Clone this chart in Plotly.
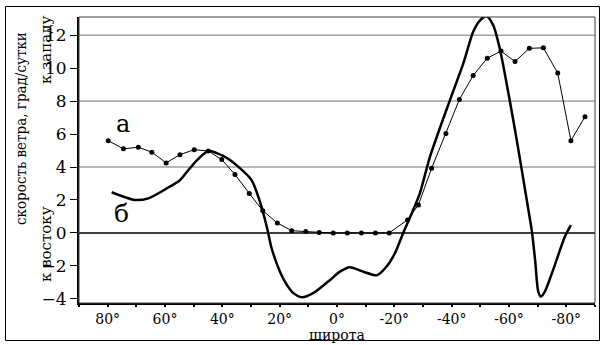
import plotly.graph_objects as go

# ---- data ----
lat_a = [79.8, 74.5, 69.3, 64.6, 59.6, 54.8, 49.8, 44.9, 40.2, 35.6, 30.6, 25.9, 20.8,
         15.8, 10.9, 6.2, 1.3, -3.6, -8.5, -13.4, -18.2, -24.6, -28.4, -33.0, -38.0,
         -42.7, -47.5, -52.4, -57.2, -62.1, -67.1, -72.0, -77.0, -81.6, -86.5]
val_a = [5.6, 5.1, 5.2, 4.9, 4.25, 4.75, 5.05, 4.97, 4.45, 3.55, 2.4, 1.35, 0.6,
         0.14, 0.08, 0.02, 0.0, 0.0, 0.0, 0.0, 0.0, 0.79, 1.7, 3.92, 6.04,
         8.1, 9.55, 10.6, 11.03, 10.4, 11.2, 11.23, 9.7, 5.6, 7.05]

lat_b = [78.6, 70.5, 65.8, 59.4, 54.8, 51.9, 48.9, 44.9, 39.7, 35.0, 29.8, 26.9, 24.5,
         22.8, 19.9, 17.5, 15.2, 12.3, 8.3, 2.4, -1.0, -4.5, -9.2, -13.9, -17.3, -20.2,
         -23.1, -26.1, -28.9, -32.4, -39.4, -44.1, -47.5, -49.9, -52.2, -54.5, -56.9,
         -59.8, -62.1, -63.9, -66.2, -68.0, -69.1, -70.2, -71.1, -72.5, -75.4, -79.5, -81.6]
val_b = [2.47, 2.0, 2.1, 2.7, 3.2, 3.8, 4.4, 4.97, 4.67, 4.1, 3.2, 1.9, 0.38,
         -0.93, -2.35, -3.15, -3.65, -3.9, -3.65, -2.85, -2.35, -2.08, -2.35, -2.57, -2.04, -1.23,
         0.0, 1.2, 2.4, 4.6, 8.06, 10.3, 12.2, 12.9, 13.15, 12.6, 11.1,
         8.47, 6.24, 4.4, 2.0, 0.08, -1.64, -3.56, -3.86, -3.56, -2.24, -0.22, 0.48]

x_tickvals = [80, 60, 40, 20, 0, -20, -40, -60, -80]
x_ticktext = ["80°", "60°", "40°", "20°", "0°", "-20°", "-40°", "-60°", "-80°"]
y_tickvals = [-4, -2, 0, 2, 4, 6, 8, 10, 12]
grid_vals = [4, 8, 12]

FONT = "DejaVu Serif"
FONT_C = "DejaVu Serif Condensed"

fig = go.Figure()
fig.add_trace(go.Scatter(x=lat_b, y=val_b, mode="lines",
                         line=dict(color="black", width=2.5, shape="spline", smoothing=0.7),
                         showlegend=False, hoverinfo="skip"))
fig.add_trace(go.Scatter(x=lat_a, y=val_a, mode="lines+markers",
                         line=dict(color="black", width=1),
                         marker=dict(color="black", size=5),
                         showlegend=False, hoverinfo="skip"))

W, H = 601, 345
ML, MR, MT, MB = 79, 6, 17, 42
pw, ph = W - ML - MR, H - MT - MB


def px(x):
    return (x - ML) / pw


def py(y):
    return (H - MB - y) / ph


shapes = []
for g in grid_vals:
    shapes.append(dict(type="line", xref="paper", yref="y", x0=0, x1=1, y0=g, y1=g,
                       line=dict(color="#707070", width=1), layer="below"))
shapes.append(dict(type="line", xref="paper", yref="y", x0=0, x1=1, y0=0, y1=0,
                   line=dict(color="black", width=1.5), layer="below"))
shapes.append(dict(type="rect", xref="paper", yref="paper", x0=0, x1=1, y0=0, y1=1,
                   line=dict(color="#404040", width=1)))
shapes.append(dict(type="rect", xref="paper", yref="paper",
                   x0=px(5.5), x1=px(599.5), y0=py(340.5), y1=py(6.5),
                   line=dict(color="black", width=1)))

annotations = [
    dict(text="а", x=px(123), y=py(124), xref="paper", yref="paper", showarrow=False,
         font=dict(family=FONT, size=24, color="black"), xanchor="center", yanchor="middle"),
    dict(text="б", x=px(121), y=py(213), xref="paper", yref="paper", showarrow=False,
         font=dict(family=FONT, size=25, color="black"), xanchor="center", yanchor="middle"),
    dict(text="скорость ветра, град/сутки", x=px(21), y=py(129), xref="paper", yref="paper",
         showarrow=False, textangle=-90,
         font=dict(family=FONT_C, size=15, color="black"), xanchor="center", yanchor="middle"),
    dict(text="к западу", x=px(46), y=py(50), xref="paper", yref="paper",
         showarrow=False, textangle=-90,
         font=dict(family=FONT, size=15, color="black"), xanchor="center", yanchor="middle"),
    dict(text="к востоку", x=px(46), y=py(244), xref="paper", yref="paper",
         showarrow=False, textangle=-90,
         font=dict(family=FONT, size=15, color="black"), xanchor="center", yanchor="middle"),
    dict(text="широта", x=px(337), y=py(335.5), xref="paper", yref="paper",
         showarrow=False,
         font=dict(family=FONT, size=14, color="black"), xanchor="center", yanchor="middle"),
]

fig.update_layout(
    width=W, height=H,
    margin=dict(l=ML, r=MR, t=MT, b=MB, pad=0),
    paper_bgcolor="white", plot_bgcolor="white",
    font=dict(family=FONT, size=14, color="black"),
    shapes=shapes, annotations=annotations,
    xaxis=dict(range=[90, -90], tickvals=x_tickvals, ticktext=x_ticktext,
               ticks="outside", ticklen=2, tickwidth=2, tickcolor="black",
               minor=dict(dtick=10, tick0=0, ticks="outside", ticklen=2, tickwidth=2,
                          tickcolor="black", showgrid=False),
               showline=True, linecolor="black", linewidth=2,
               showgrid=False, zeroline=False, automargin=False,
               tickfont=dict(family=FONT, size=14, color="black")),
    yaxis=dict(range=[-4.25, 13.1], tickvals=y_tickvals,
               ticks="outside", ticklen=7, tickwidth=1, tickcolor="black",
               showline=True, linecolor="black", linewidth=2,
               showgrid=False, zeroline=False, automargin=False,
               tickfont=dict(family=FONT, size=17, color="black")),
)

fig.write_html("out.html", config={"displayModeBar": False},
               post_script="document.body.style.margin='0';document.body.style.padding='0';")
